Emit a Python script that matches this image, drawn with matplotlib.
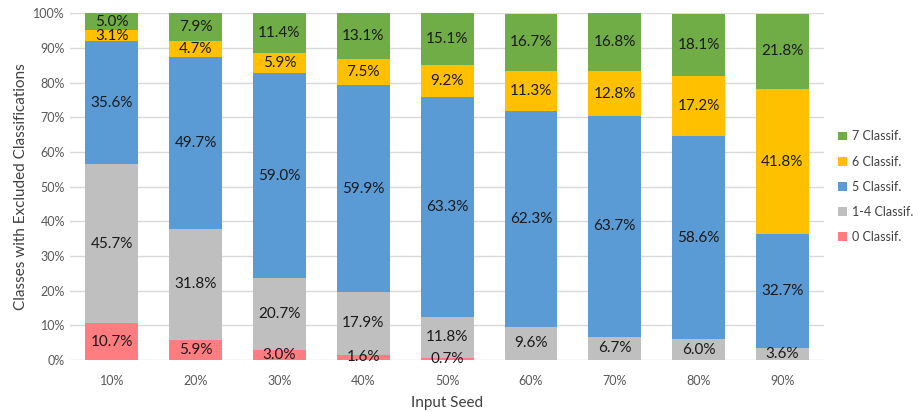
import matplotlib.pyplot as plt
import numpy as np

plt.rcParams["font.family"] = ["Lato", "DejaVu Sans"]

seeds = ["10%", "20%", "30%", "40%", "50%", "60%", "70%", "80%", "90%"]
c0 = [10.7, 5.9, 3.0, 1.6, 0.7, 0, 0, 0, 0]
c14 = [45.7, 31.8, 20.7, 17.9, 11.8, 9.6, 6.7, 6.0, 3.6]
c5 = [35.6, 49.7, 59.0, 59.9, 63.3, 62.3, 63.7, 58.6, 32.7]
c6 = [3.1, 4.7, 5.9, 7.5, 9.2, 11.3, 12.8, 17.2, 41.8]
c7 = [5.0, 7.9, 11.4, 13.1, 15.1, 16.7, 16.8, 18.1, 21.8]

series = [
    ("0 Classif.", c0, "#FF7C80"),
    ("1-4 Classif.", c14, "#BFBFBF"),
    ("5 Classif.", c5, "#5B9BD5"),
    ("6 Classif.", c6, "#FFC000"),
    ("7 Classif.", c7, "#70AD47"),
]

fig = plt.figure(figsize=(9.19, 4.12), dpi=100)
ax = fig.add_axes([0.076, 0.126, 0.821, 0.842])

x = np.arange(len(seeds))
bottom = np.zeros(len(seeds))
handles = []
for name, vals, color in series:
    vals = np.array(vals, dtype=float)
    h = ax.bar(x, vals, 0.63, bottom=bottom, color=color, label=name, zorder=2)
    handles.append(h)
    for xi, b, v in zip(x, bottom, vals):
        if v > 0:
            ax.text(xi, b + v / 2, f"{v:.1f}%", ha="center", va="center",
                    fontsize=11, color="#1a1a1a", zorder=3)
    bottom += vals

ax.set_xlim(-0.5, len(seeds) - 0.5)
ax.set_ylim(0, 100)
ax.set_yticks(np.arange(0, 101, 10))
ax.set_yticklabels([f"{t}%" for t in range(0, 101, 10)])
ax.set_xticks(x)
ax.set_xticklabels(seeds)
ax.tick_params(axis="both", length=0, labelsize=9, colors="#595959")
ax.tick_params(axis="x", pad=11)
ax.grid(axis="y", color="#D9D9D9", linewidth=1, zorder=0)
for s in ax.spines.values():
    s.set_visible(False)

ax.set_xlabel("Input Seed", fontsize=11, color="#404040", labelpad=6)
ax.set_ylabel("Classes with Excluded Classifications", fontsize=11,
              color="#404040", labelpad=4)

ax.legend(handles[::-1], [s[0] for s in series][::-1], loc="center left",
          bbox_to_anchor=(1.003, 0.5), frameon=False, fontsize=9,
          handlelength=0.7, handleheight=0.7, handletextpad=0.4,
          labelspacing=1.05, labelcolor="#404040")

fig.savefig("out.png", dpi=100)
